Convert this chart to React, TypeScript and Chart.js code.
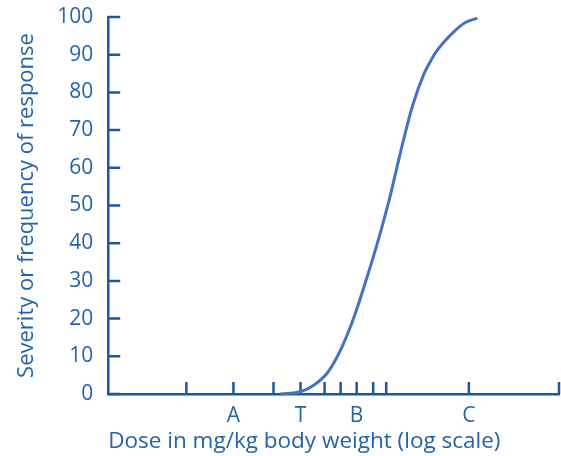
import React, { useEffect, useRef } from 'react';
import { Chart, registerables } from 'chart.js';

Chart.register(...registerables);

// Dose axis (arbitrary log-dose units) tick positions and their labels
const doseTicks = [1.56, 2.5, 3.3, 3.84, 4.32, 4.64, 4.96, 5.29, 5.55, 7.2, 9];
const doseTickLabels = ['', 'A', '', 'T', '', '', 'B', '', '', 'C', ''];

// Dose-response curve
const curveDose = [3.44, 3.84, 4.11, 4.37, 4.64, 4.91, 5.17, 5.41, 5.62, 5.87, 6.07, 6.31, 6.44, 6.57, 6.91, 7.14, 7.37];
const curveResponse = [0, 0.6, 2.4, 5.5, 11.7, 20.5, 31.1, 41.7, 52, 66, 76.2, 85.1, 88.4, 91.2, 96.2, 98.6, 99.7];

// Response axis ticks
const responseTicks = [0, 10, 20, 30, 40, 50, 60, 70, 80, 90, 100];

const xTitle = 'Dose in mg/kg body weight (log scale)';
const yTitle = 'Severity or frequency of response';

const AXIS_COLOR = '#1b58a0';
const TEXT_COLOR = '#2463aa';
const CURVE_COLOR = '#4472c4';
const FONT = '"Open Sans", sans-serif';

const innerTicks = {
  id: 'innerTicks',
  beforeDatasetsDraw(chart: any) {
    const { ctx, chartArea, scales } = chart;
    ctx.save();
    ctx.strokeStyle = AXIS_COLOR;
    ctx.lineWidth = 2.5;
    ctx.beginPath();
    scales.x.ticks.forEach((t: any) => {
      const px = scales.x.getPixelForValue(t.value);
      ctx.moveTo(px, chartArea.bottom);
      ctx.lineTo(px, chartArea.bottom - 12);
    });
    scales.y.ticks.forEach((t: any) => {
      const py = scales.y.getPixelForValue(t.value);
      ctx.moveTo(chartArea.left, py);
      ctx.lineTo(chartArea.left + 12, py);
    });
    ctx.stroke();
    ctx.restore();
  },
};

export default function App() {
  const ref = useRef<HTMLCanvasElement>(null);
  useEffect(() => {
    if (!ref.current) return;
    const chart = new Chart(ref.current, {
      type: 'line',
      data: {
        datasets: [
          {
            data: curveDose.map((x, i) => ({ x, y: curveResponse[i] })),
            borderColor: CURVE_COLOR,
            borderWidth: 3,
            pointRadius: 0,
            cubicInterpolationMode: 'monotone',
            fill: false,
          },
        ],
      },
      options: {
        animation: false,
        responsive: false,
        clip: false as any,
        layout: { padding: { left: 8, top: 0, right: 2, bottom: 0 } },
        plugins: { legend: { display: false }, tooltip: { enabled: false } },
        scales: {
          x: {
            type: 'linear',
            min: 0,
            max: 9,
            afterBuildTicks: (scale: any) => {
              scale.ticks = doseTicks.map((v) => ({ value: v }));
            },
            grid: { display: false, drawTicks: true, tickLength: 8.4 },
            border: { display: true, color: AXIS_COLOR, width: 2.5 },
            ticks: {
              autoSkip: false,
              maxRotation: 0,
              padding: 1,
              color: TEXT_COLOR,
              font: { family: FONT, size: 21 },
              callback: (_v: any, i: number) => doseTickLabels[i],
            },
            title: {
              display: true,
              text: xTitle,
              align: 'start',
              color: TEXT_COLOR,
              font: { family: FONT, size: 22.5 },
              padding: { top: -1.1, bottom: 0.5 },
            },
          },
          y: {
            type: 'linear',
            min: 0,
            max: 100,
            afterBuildTicks: (scale: any) => {
              scale.ticks = responseTicks.map((v) => ({ value: v }));
            },
            grid: { display: false, drawTicks: true, tickLength: 10.6 },
            border: { display: true, color: AXIS_COLOR, width: 2.5 },
            ticks: {
              padding: 4.4,
              color: TEXT_COLOR,
              font: { family: FONT, size: 21 },
            },
            title: {
              display: true,
              text: yTitle,
              color: TEXT_COLOR,
              font: { family: FONT, size: 22 },
              padding: { top: 5.8, bottom: 12.6 },
            },
          },
        },
      },
      plugins: [innerTicks],
    });
    return () => chart.destroy();
  }, []);
  return (
    <div style={{ position: 'absolute', left: 0, top: 0, width: 561, height: 456 }}>
      <canvas ref={ref} width={561} height={456} style={{ display: 'block' }} />
    </div>
  );
}
